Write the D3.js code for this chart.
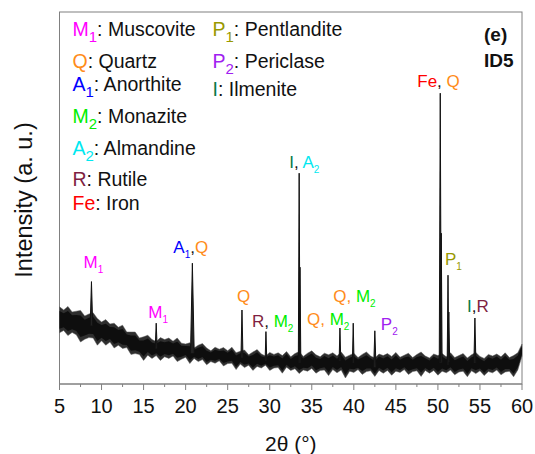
<!DOCTYPE html>
<html>
<head>
<meta charset="utf-8">
<script src="https://cdn.jsdelivr.net/npm/d3@7"></script>
<style>
  body { margin: 0; background: #fff; }
  svg text { font-family: "Liberation Sans", Arial, sans-serif; }
</style>
</head>
<body>
<div id="graf"></div>
<script>
// background band of the pattern, read every 0.5 deg from 5 to 60 (a. u.)
var bandStart = 5, bandStep = 0.5;
var bandHi = [193,185,194,180,182,184,170,175,178,164,155,161,150,152,142,147,130,130,130,115,
              118,122,111,106,116,111,115,107,115,102,100,103,90,97,101,90,83,92,87,91,
              83,92,78,82,85,73,80,86,75,70,79,74,78,71,81,68,76,81,69,77,
              83,73,68,77,73,78,70,80,67,72,77,66,74,80,70,65,75,71,76,69,
              79,67,72,77,66,74,80,70,65,75,71,76,68,78,66,71,76,65,73,79,
              69,64,74,70,75,68,78,66,71,78,100];
var bandLo = [128,134,121,129,123,105,112,116,115,97,108,97,105,90,97,89,91,74,76,74,
              59,72,64,71,59,68,64,70,56,62,67,51,64,56,61,48,56,52,58,45,
              51,52,36,50,41,47,34,44,40,47,34,40,41,27,42,34,38,26,35,32,
              39,27,34,35,21,36,28,35,15,32,29,36,24,31,33,19,34,27,34,22,
              32,29,36,24,31,33,19,34,27,34,22,32,28,35,23,30,32,18,33,26,
              33,21,31,28,35,23,30,32,18,35,70];

// diffraction peaks: 2theta (deg), top (a. u.), half width at base (deg)
var peakPos  = [8.8, 16.5, 20.8, 26.7, 29.55, 33.5, 33.6, 38.35, 39.93, 42.5, 50.28, 50.4, 51.2, 51.3, 54.4];
var peakTop  = [256, 152, 302, 185, 131, 527, 292, 140, 152, 133, 727, 377, 272, 180, 165];
var peakHalf = [0.15, 0.12, 0.22, 0.12, 0.1, 0.1, 0.1, 0.1, 0.1, 0.14, 0.12, 0.1, 0.1, 0.1, 0.12];

// labelled peaks (index into the peak arrays) and their text
var labelPeak = [0, 1, 2, 3, 4, 5, 7, 8, 9, 10, 12, 14];
var labelText = ["M1", "M1", "A1,Q", "Q", "R, M2", "I, A2", "Q, M2", "Q, M2", "P2", "Fe, Q", "P1", "I,R"];

// legend
var legendSym  = ["M1", "Q", "A1", "M2", "A2", "R", "Fe", "P1", "P2", "I"];
var legendName = ["Muscovite", "Quartz", "Anorthite", "Monazite", "Almandine", "Rutile", "Iron",
                  "Pentlandite", "Periclase", "Ilmenite"];

var xTicks = [5, 10, 15, 20, 25, 30, 35, 40, 45, 50, 55, 60];
var panel = ["(e)", "ID5"];

var cores = {
    "M1": "#ff00ff", "Q": "#ff8c1a", "A1": "#0000ff", "M2": "#00ee00", "A2": "#00e8f0",
    "R": "#7f1f42", "Fe": "#ff0000", "P1": "#999900", "P2": "#a020f0", "I": "#087a48"
};

var W = 535, H = 454,
    margem = {left: 59.5, right: 13, top: 12, bottom: 70},
    frameCor = "#808080";

var svg = d3.select("#graf").append("svg")
    .attr("width", W).attr("height", H);

var x = d3.scaleLinear().domain([5, 60]).range([margem.left, W - margem.right]);
var y = d3.scaleLinear().domain([0, 930]).range([H - margem.bottom, margem.top]);

// frame
svg.append("rect")
    .attr("x", x(5)).attr("y", y(930))
    .attr("width", x(60) - x(5)).attr("height", y(0) - y(930))
    .attr("fill", "none").attr("stroke", frameCor).attr("stroke-width", 1);

// x axis with minor ticks
var eixo = svg.append("g").attr("transform", "translate(0," + y(0) + ")");
eixo.append("line").attr("x1", x(5)).attr("x2", x(60)).attr("stroke", frameCor);
eixo.selectAll(".minor").data(d3.range(7.5, 60, 5)).enter().append("line")
    .attr("x1", function(d){ return x(d); }).attr("x2", function(d){ return x(d); })
    .attr("y1", 0).attr("y2", 3).attr("stroke", frameCor);
eixo.selectAll(".major").data(xTicks).enter().append("line")
    .attr("x1", function(d){ return x(d); }).attr("x2", function(d){ return x(d); })
    .attr("y1", 0).attr("y2", 6).attr("stroke", frameCor);
eixo.selectAll(".tl").data(xTicks).enter().append("text")
    .attr("x", function(d){ return x(d); }).attr("y", 29)
    .attr("text-anchor", "middle").attr("font-size", 20).attr("fill", "#111")
    .text(function(d){ return d; });

svg.append("text").attr("x", (x(5) + x(60)) / 2).attr("y", 451)
    .attr("text-anchor", "middle").attr("font-size", 21).attr("fill", "#111")
    .text("2θ (°)");

svg.append("text")
    .attr("transform", "translate(32," + ((y(0) + y(930)) / 2 + 2) + ") rotate(-90)")
    .attr("text-anchor", "middle").attr("font-size", 23.5).attr("fill", "#111")
    .text("Intensity (a. u.)");

// background noise band: grey fringe and a darker core
var banda = d3.area()
    .x(function(d, i){ return x(bandStart + i * bandStep); })
    .y0(function(d, i){ return y(bandLo[i]); })
    .y1(function(d, i){ return y(bandHi[i]); });
var nucleo = d3.area()
    .x(function(d, i){ return x(bandStart + i * bandStep); })
    .y0(function(d, i){ return y(bandLo[i] + (bandHi[i] - bandLo[i]) * 0.16); })
    .y1(function(d, i){ return y(bandHi[i] - (bandHi[i] - bandLo[i]) * 0.16); });
svg.append("path").datum(bandHi).attr("d", banda)
    .attr("fill", "#2e2e2e").attr("stroke", "#5a5a5a").attr("stroke-width", 0.5);
svg.append("path").datum(bandHi).attr("d", nucleo).attr("fill", "#0e0e0e");

function baseEm(pos) {
    var i = Math.round((pos - bandStart) / bandStep);
    return (bandHi[i] + bandLo[i]) / 2;
}

// peaks
var linha = d3.line().x(function(d){ return x(d[0]); }).y(function(d){ return y(d[1]); });
peakPos.forEach(function(p, i) {
    var b = baseEm(p);
    svg.append("path")
        .attr("d", linha([[p - peakHalf[i], b], [p, peakTop[i]], [p + peakHalf[i], b]]))
        .attr("fill", "#222").attr("stroke", "#111").attr("stroke-width", 1);
});

// writes a label like "R, M2" with coloured symbols and subscripts
function escreve(t, texto, subTam, subDy, virgulaCor) {
    var volta = 0;
    function parte(txt, cor) {
        var s = t.append("tspan").attr("fill", cor).text(txt);
        if (volta) { s.attr("dy", volta); volta = 0; }
        return s;
    }
    texto.split(/(,\s?)/).forEach(function(p) {
        if (p === "") return;
        if (p.charAt(0) === ",") { parte(p, virgulaCor || "#111"); return; }
        var m = p.match(/^([A-Za-z]+)(\d*)$/);
        parte(m[1], cores[p]);
        if (m[2]) {
            parte(m[2], cores[p]).attr("dy", subDy).attr("font-size", subTam);
            volta = -subDy;
        }
    });
    return parte;
}

// peak labels: offset of left edge from the peak, and of baseline from its top (px)
var labelDx = [-8, -8, -19, -5, -14, -10, -33, -20, 6, -23, -3, -8];
var labelDy = [-14, -5, -10, -8, -5, -5, -3, -21, -1, -6, -10, -6];
labelPeak.forEach(function(k, i) {
    var t = svg.append("text")
        .attr("x", x(peakPos[k]) + labelDx[i])
        .attr("y", y(peakTop[k]) + labelDy[i])
        .attr("font-size", 17);
    escreve(t, labelText[i], 10, 5, labelText[i] === "Q, M2" ? cores["Q"] : null);
});

// legend, two columns
var legY = [36, 68, 91, 123, 155, 186, 210, 36, 68, 96];
legendSym.forEach(function(s, i) {
    var t = svg.append("text")
        .attr("x", i < 7 ? 72.5 : 212.5).attr("y", legY[i])
        .attr("font-size", 19.5);
    var parte = escreve(t, s, 15, 6);
    parte(": " + legendName[i], "#111");
});

// panel tag
panel.forEach(function(p, i) {
    svg.append("text").attr("x", 484).attr("y", 41 + i * 26)
        .attr("font-size", 19).attr("font-weight", "bold").attr("fill", "#111")
        .text(p);
});
</script>
</body>
</html>
